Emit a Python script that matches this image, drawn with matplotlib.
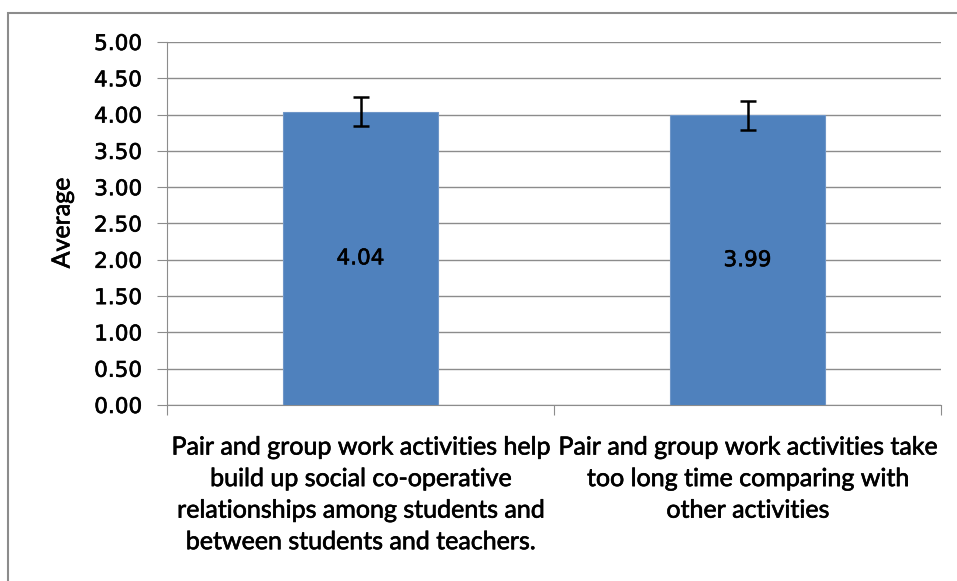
import matplotlib.pyplot as plt
import matplotlib.patheffects as pe
from matplotlib.patches import Rectangle
import numpy as np

categories = [
    "Pair and group work activities help\nbuild up social co-operative\nrelationships among students and\nbetween students and teachers.",
    "Pair and group work activities take\ntoo long time comparing with\nother activities",
]
averages = [4.04, 3.99]
errors = [0.20, 0.20]
yticks = [0.0, 0.5, 1.0, 1.5, 2.0, 2.5, 3.0, 3.5, 4.0, 4.5, 5.0]

W, H = 957, 581
fig = plt.figure(figsize=(W / 100, H / 100), dpi=100)
ax = fig.add_axes([167 / W, 1 - 405 / H, (941 - 167) / W, (405 - 42) / H])

# slightly heavier text, like the original rendering
heavy = [pe.withStroke(linewidth=0.45, foreground='black')]

# outer chart frame (runs off the right and bottom edges)
fig.patches.append(Rectangle((8 / W, -0.1), 1.2, 1 - 13 / H + 0.1, transform=fig.transFigure,
                             fill=False, edgecolor='#8c8c8c', linewidth=1.5))

x = np.arange(len(averages))
ax.bar(x, averages, width=0.4, color='#4f81bd', edgecolor='#6f96c8', linewidth=0.8, zorder=3)
ax.errorbar(x, averages, yerr=errors, fmt='none', ecolor='black', elinewidth=1.8,
            capsize=6, capthick=1.8, zorder=4)

for xi, v in zip(x, averages):
    ax.text(xi, v / 2, f"{v:.2f}", ha='center', va='center', fontsize=15.5,
            fontfamily='DejaVu Sans', color='black', zorder=5, path_effects=heavy)

ax.set_xlim(-0.5, 1.5)
ax.set_ylim(0, 5)
ax.set_yticks(yticks)
ax.set_yticklabels([f"{t:.2f}" for t in yticks], fontsize=15.5, fontfamily='DejaVu Sans',
                   path_effects=heavy)
ax.yaxis.grid(True, color='#8c8c8c', linewidth=1.0, zorder=0)
ax.set_axisbelow(True)

# category ticks sit between categories
ax.set_xticks([-0.5, 0.5, 1.5])
ax.set_xticklabels([])
ax.set_xticks(x, minor=True)
ax.set_xticklabels(categories, minor=True, fontsize=18, fontfamily='Lato', linespacing=1.45,
                   path_effects=heavy)
ax.tick_params(axis='x', which='minor', length=0, pad=22)
ax.tick_params(axis='x', which='major', length=7, color='#8c8c8c', direction='out')
ax.tick_params(axis='y', length=7, color='#8c8c8c', direction='out', pad=11)

for s in ['top', 'right']:
    ax.spines[s].set_visible(False)
ax.spines['left'].set_color('#8c8c8c')
ax.spines['bottom'].set_color('#8c8c8c')

fig.text(62 / W, 1 - 223 / H, "Average", rotation=90, ha='center', va='center',
         fontsize=18, fontfamily='Lato', path_effects=heavy)

fig.savefig('out.png', dpi=100)
